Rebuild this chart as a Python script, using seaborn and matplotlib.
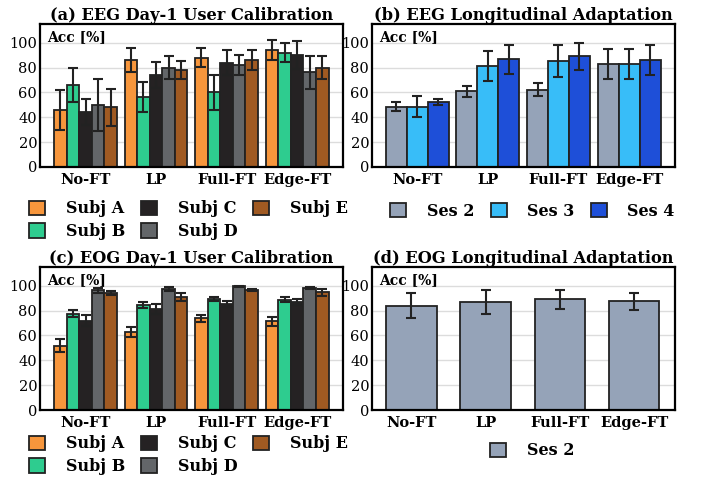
import numpy as np
import pandas as pd
import matplotlib
matplotlib.use("Agg")
import matplotlib.pyplot as plt
import seaborn as sns

methods = ["No-FT", "LP", "Full-FT", "Edge-FT"]
subjects = ["Subj A", "Subj B", "Subj C", "Subj D", "Subj E"]
sessions = ["Ses 2", "Ses 3", "Ses 4"]

# (a) EEG Day-1 (rows: subjects, cols: methods)
eeg_day1_mean = [[46, 86, 88, 94],
                 [66, 56, 60, 92],
                 [44, 74, 84, 90],
                 [50, 80, 82, 76],
                 [48, 78, 86, 80]]
eeg_day1_err = [[16, 10, 7.5, 8],
                [14, 12, 14, 7.5],
                [10.5, 10.5, 10, 11],
                [21, 9, 7.7, 13],
                [15, 7.5, 8, 9]]

# (b) EEG longitudinal
eeg_long_mean = [[48.6, 60.8, 62, 83],
                 [48.4, 81.4, 85, 83],
                 [52.4, 86.5, 89, 86]]
eeg_long_err = [[3.5, 4.5, 5.3, 12],
                [8.4, 12, 12.8, 12],
                [2.5, 11.6, 10.7, 12]]

# (c) EOG Day-1
eog_day1_mean = [[51.8, 63, 73.6, 71.4],
                 [77.6, 84.4, 89.2, 88.7],
                 [71.7, 81, 85.2, 86.5],
                 [96.2, 97.3, 99.7, 98.4],
                 [94, 91, 96.5, 94.6]]
eog_day1_err = [[4.9, 4, 3, 3.5],
                [2.5, 2.2, 1.9, 2.2],
                [4.5, 4, 2.2, 2.4],
                [1.9, 1.9, 0.4, 0.8],
                [1.5, 3, 0.5, 3]]

# (d) EOG longitudinal
eog_long_mean = [[84, 86.8, 89.2, 87.3]]
eog_long_err = [[10, 9.5, 7.7, 7]]

subj_colors = ["#F7963C", "#2ECC8F", "#252223", "#636669", "#A05A22"]
ses_colors = ["#95A3B8", "#38BDF8", "#1E4FD8"]

plt.rcParams["font.family"] = ["DejaVu Serif"]

fig = plt.figure(figsize=(7.01, 4.8), dpi=100)

W, H = 701, 480
def axes_px(left, top, right, bottom):
    return fig.add_axes([left / W, 1 - bottom / H, (right - left) / W, (bottom - top) / H])

EDGE = "#222222"

def panel(ax, means, errs, levels, colors, title, width, xlim, ncol, leg_x, leg_y):
    rows = []
    for li, lev in enumerate(levels):
        for mi, m in enumerate(methods):
            rows.append({"method": m, "acc": means[li][mi], "grp": lev})
    df = pd.DataFrame(rows)
    ax.set_axisbelow(True)
    ax.yaxis.grid(True, color="#dcdcdc", linewidth=1.0)
    sns.barplot(data=df, x="method", y="acc", hue="grp", order=methods,
                hue_order=levels, palette=colors, width=width,
                edgecolor=EDGE, linewidth=1.3, errorbar=None, ax=ax,
                saturation=1)
    bar_conts = list(ax.containers)
    for li, cont in enumerate(bar_conts):
        xs = [p.get_x() + p.get_width() / 2 for p in cont.patches]
        ys = [p.get_height() for p in cont.patches]
        ax.errorbar(xs, ys, yerr=errs[li], fmt="none", ecolor=EDGE,
                    elinewidth=1.5, capsize=3.8, capthick=1.5, zorder=5)
    ax.set_ylim(0, 115)
    ax.set_xlim(*xlim)
    ax.set_yticks([0, 20, 40, 60, 80, 100])
    ax.set_xlabel("")
    ax.set_ylabel("")
    for s in ax.spines.values():
        s.set_visible(True)
        s.set_color("black")
        s.set_linewidth(1.6)
    ax.tick_params(axis="y", length=0, pad=2, labelsize=10.5)
    ax.tick_params(axis="x", length=0, pad=4)
    for t in ax.get_xticklabels():
        t.set_fontweight("bold")
        t.set_fontsize(10.5)
    ax.text(0.022, 0.955, "Acc [%]", transform=ax.transAxes, ha="left",
            va="top", fontsize=10, fontweight="bold")
    ax.set_title(title, fontsize=11.7, fontweight="bold", pad=3)
    handles, labels = ax.get_legend_handles_labels()
    ax.legend(handles, labels, loc="upper center", bbox_to_anchor=(leg_x, leg_y),
              ncol=ncol, frameon=False, prop={"weight": "bold", "size": 11.5},
              handlelength=1.0, handleheight=1.0, handletextpad=1.3,
              columnspacing=1.0, labelspacing=0.35, borderpad=0.2)

ax_a = axes_px(40, 24, 343, 167)
ax_b = axes_px(372, 24, 675, 167)
ax_c = axes_px(40, 267, 343, 410)
ax_d = axes_px(372, 267, 675, 410)

panel(ax_a, eeg_day1_mean, eeg_day1_err, subjects, subj_colors,
      "(a) EEG Day-1 User Calibration", 0.89, (-0.645, 3.65), 3, 0.49, -0.155)
panel(ax_b, eeg_long_mean, eeg_long_err, sessions, ses_colors,
      "(b) EEG Longitudinal Adaptation", 0.89, (-0.64, 3.65), 3, 0.53, -0.172)
panel(ax_c, eog_day1_mean, eog_day1_err, subjects, subj_colors,
      "(c) EOG Day-1 User Calibration", 0.89, (-0.645, 3.65), 3, 0.49, -0.1)
panel(ax_d, eog_long_mean, eog_long_err, ["Ses 2"], [ses_colors[0]],
      "(d) EOG Longitudinal Adaptation", 0.68, (-0.53, 3.55), 1, 0.53, -0.149)

fig.savefig("out.png", dpi=100)
